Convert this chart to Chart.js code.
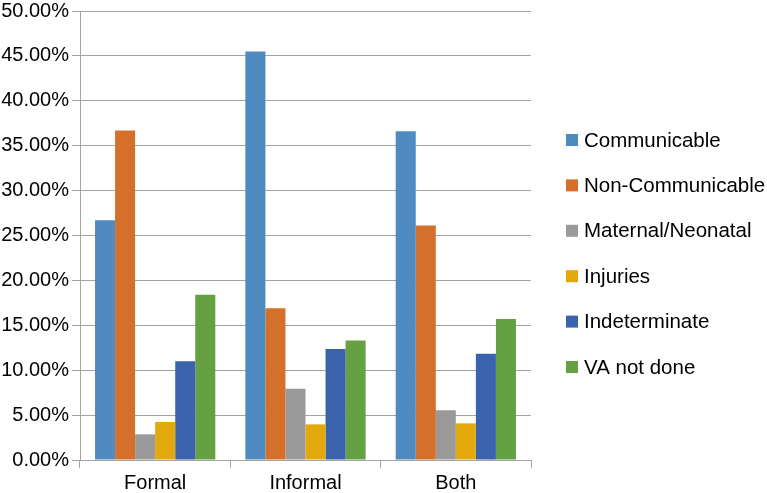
<!DOCTYPE html>
<html>
<head>
<meta charset="utf-8">
<script src="https://cdn.jsdelivr.net/npm/chart.js@4"></script>
<style>
html,body{margin:0;padding:0;background:#fff;}
#wrap{width:767px;height:493px;position:relative;}
</style>
</head>
<body>
<div id="wrap"><canvas id="c" width="767" height="493"></canvas></div>
<script>
const categories = ["Formal", "Informal", "Both"];
const seriesNames = ["Communicable", "Non-Communicable", "Maternal/Neonatal", "Injuries", "Indeterminate", "VA not done"];
const communicable = [26.7, 45.5, 36.6];
const nonCommunicable = [36.7, 16.9, 26.1];
const maternalNeonatal = [2.86, 7.94, 5.53];
const injuries = [4.23, 3.97, 4.08];
const indeterminate = [11.0, 12.36, 11.84];
const vaNotDone = [18.4, 13.3, 15.7];
const yTicksMax = 50;
const yTicksStep = 5;

const colors = ["#4F8AC0", "#D4702B", "#9A9A9A", "#E3A90A", "#3B63AD", "#65A043"];
const values = [communicable, nonCommunicable, maternalNeonatal, injuries, indeterminate, vaNotDone];

const FONT = "'Liberation Sans', Arial, Helvetica, sans-serif";
const GRID = "#a3a3a3";

const legendPlugin = {
  id: 'sideLegend',
  afterDraw(chart) {
    const ctx = chart.ctx;
    ctx.save();
    ctx.font = "20.5px " + FONT;
    ctx.textBaseline = 'middle';
    ctx.textAlign = 'left';
    chart.data.datasets.forEach((ds, i) => {
      const y = 140 + i * 45.4;
      ctx.fillStyle = ds.backgroundColor;
      ctx.fillRect(566, y - 6, 12, 12);
      ctx.fillStyle = '#000';
      ctx.fillText(ds.label, 584, y + 1);
    });
    ctx.restore();
  }
};

new Chart(document.getElementById('c'), {
  type: 'bar',
  data: {
    labels: categories,
    datasets: seriesNames.map((n, i) => ({
      label: n,
      data: values[i],
      backgroundColor: colors[i],
      borderWidth: 0,
      categoryPercentage: 0.8,
      barPercentage: 1.0
    }))
  },
  options: {
    responsive: false,
    animation: false,
    devicePixelRatio: 1,
    layout: { padding: { left: 0, right: 236, top: 0, bottom: 0 } },
    plugins: { legend: { display: false }, tooltip: { enabled: false } },
    scales: {
      x: {
        grid: { offset: true, drawOnChartArea: false, drawTicks: true, tickLength: 8, color: GRID },
        border: { color: GRID, width: 1 },
        ticks: { color: '#000', font: { family: FONT, size: 20 }, padding: 3 },
        afterFit(s) { s.height = 33; s.paddingLeft = 0; s.paddingRight = 0; }
      },
      y: {
        min: 0,
        max: yTicksMax,
        grid: { color: GRID, tickLength: 8, drawTicks: true },
        border: { color: GRID, width: 1 },
        ticks: {
          stepSize: yTicksStep,
          color: '#000',
          font: { family: FONT, size: 20 },
          padding: 3,
          callback: v => v.toFixed(2) + '%'
        },
        afterFit(s) { s.width = 80; s.paddingTop = 11; s.paddingBottom = 0; }
      }
    }
  },
  plugins: [legendPlugin]
});
</script>
</body>
</html>
